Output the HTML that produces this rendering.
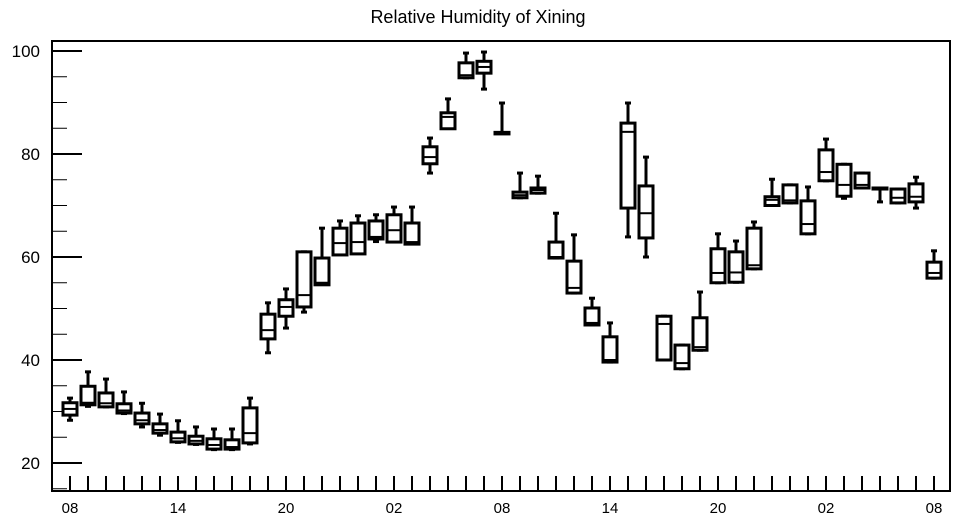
<!DOCTYPE html>
<html><head><meta charset="utf-8"><style>
html,body{margin:0;padding:0;background:#fff;}
svg{display:block;font-family:"Liberation Sans",Arial,sans-serif;}
</style></head><body>
<svg id="chart" width="957" height="520" xmlns="http://www.w3.org/2000/svg">
<text x="478" y="23" text-anchor="middle" font-size="18">Relative Humidity of Xining</text>
<g id="axes"></g>
<g id="marks"></g>
<rect x="52" y="41" width="898" height="450" fill="none" stroke="#000" stroke-width="2"/>
</svg>
<script>
const hours = Array.from({length:49},(_,i)=>i);
const mins = [28.3,31,30.9,29.6,27,25.4,24,23.6,22.6,22.6,23.7,41.4,46.2,49.3,55,61.2,61,63,63,63,76.3,85,94.8,92.6,84,71.5,72.4,59.8,53,46.8,39.6,63.9,60,40,38.3,41.9,55,55.1,57.7,70,70.5,64.5,74.8,71.4,73.4,70.7,70.5,69.5,55.9];
const q1s = [29.3,31.3,30.9,29.7,27.6,25.8,24.1,23.7,22.7,22.7,23.9,44.1,48.5,50.3,54.6,60.4,60.6,63.5,62.9,62.5,78.1,84.9,94.8,95.7,83.9,71.5,72.4,59.8,53,46.8,39.6,69.5,63.7,40,38.3,41.9,55,55.1,57.7,70,70.5,64.5,74.8,71.8,73.4,73.2,70.5,70.7,55.9];
const medians = [30.5,31.7,31.6,30.2,28.3,26.4,24.8,24.3,23.5,23.1,25.8,45.8,50.3,52.6,55,62.7,62.9,63.9,65.2,62.9,79.4,87.2,95.3,96.9,84,72,73,60,54,47.2,40,84.3,68.5,47,39.4,42.5,56.9,57,58.4,71.1,71,66.4,76.5,74,74,73.4,71.5,71.7,56.9];
const q3s = [31.7,34.9,33.6,31.5,29.7,27.6,26,25.2,24.7,24.5,30.7,48.9,51.7,61,59.8,65.6,66.6,67,68.2,66.6,81.4,88,97.7,98,84.2,72.6,73.4,62.9,59.2,50.1,44.5,86,73.8,48.5,42.9,48.2,61.6,61,65.6,71.7,74,70.9,80.8,78,76.3,73.4,73.2,74.2,59];
const maxs = [32.6,37.7,36.3,33.8,31.6,29.5,28.2,27,26.6,26.6,32.6,51.1,53.8,61,65.6,67,68,68.2,69.7,69.7,83.1,90.7,99.6,99.8,89.9,76.3,75.7,68.5,64.3,52,47.2,89.9,79.4,48.5,42.9,53.2,64.5,63.1,66.8,75.1,74,73.6,82.9,78,76.3,73.4,73.2,75.5,61.2];
const yTicks = [20,40,60,80,100];
const xLabels = ["08","14","20","02","08","14","20","02","08"];

const X0=70, DX=18, Y0=463, YS=5.15;
function xs(h){return X0+h*DX;}
function ys(v){return Y0-(v-20)*YS;}
const NS="http://www.w3.org/2000/svg";
function mk(tag,attrs,parent){const e=document.createElementNS(NS,tag);for(const k in attrs)e.setAttribute(k,attrs[k]);parent.appendChild(e);return e;}
const axes=document.getElementById('axes'), marks=document.getElementById('marks');
// y ticks
for(let v=15; v<=105; v+=5){
  const y=ys(v); if(y<41||y>491) continue;
  const major = v%20===0;
  const t=mk('line',{x1:52,x2:major?82:67,y1:y,y2:y,stroke:'#000','stroke-width':major?2:1},axes);
  
  
}
yTicks.forEach(v=>{
  const t=mk('text',{x:40,y:ys(v)+6,'text-anchor':'end','font-size':17},axes);
  t.textContent=v;
  
  
});
hours.forEach(h=>{
  const t=mk('line',{x1:xs(h),x2:xs(h),y1:476,y2:491,stroke:'#000','stroke-width':2},axes);
  
  
});
xLabels.forEach((s,i)=>{
  const t=mk('text',{x:xs(i*6),y:513,'text-anchor':'middle','font-size':15},axes);
  t.textContent=s;
  
  
});
hours.forEach(h=>{
  const g=mk('g',{stroke:'#000','stroke-width':3,fill:'none'},marks);
  
  
  const x=xs(h), w=7;
  const yq1=ys(q1s[h]), yq3=ys(q3s[h]);
  mk('line',{x1:x,x2:x,y1:ys(maxs[h]),y2:yq3},g);
  mk('line',{x1:x-3,x2:x+3,y1:ys(maxs[h]),y2:ys(maxs[h])},g);
  mk('line',{x1:x,x2:x,y1:ys(mins[h]),y2:yq1},g);
  mk('line',{x1:x-3,x2:x+3,y1:ys(mins[h]),y2:ys(mins[h])},g);
  mk('rect',{x:x-w,y:yq3,width:2*w,height:Math.max(0.5,yq1-yq3),fill:'#fff'},g);
  mk('line',{x1:x-w,x2:x+w,y1:ys(medians[h]),y2:ys(medians[h]),'stroke-width':2},g);
});
</script>
</body></html>
